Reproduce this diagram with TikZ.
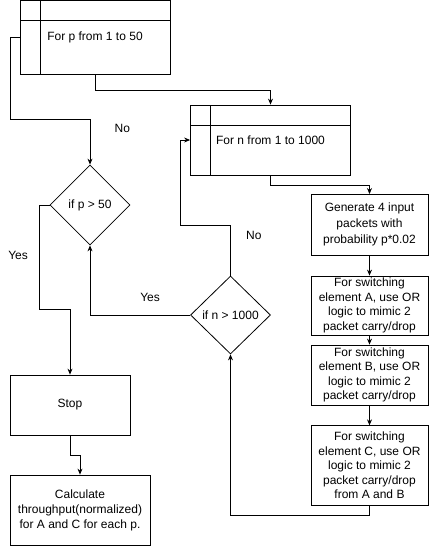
\documentclass[tikz,border=0pt]{standalone}
\usepackage{fontspec}
\setmainfont{Liberation Sans}
\usetikzlibrary{arrows.meta,positioning,calc,shapes.geometric}

\begin{document}
\begin{tikzpicture}[
  x=1pt,y=-1pt,
  every node/.style={font=\fontsize{12}{14.5}\selectfont},
  bx/.style={draw,line width=0.8pt,align=center,inner sep=2pt},
  loopbx/.style={bx,
    path picture={
      \draw[line width=0.8pt] ([xshift=20pt]path picture bounding box.north west) -- ([xshift=20pt]path picture bounding box.south west);
      \draw[line width=0.8pt] ([yshift=-20pt]path picture bounding box.north west) -- ([yshift=-20pt]path picture bounding box.north east);}},
  cond/.style={draw,line width=0.8pt,diamond,inner sep=0pt,minimum width=80pt,minimum height=80pt},
  arrow/.style={-{Stealth[length=6pt,width=5pt]},line width=0.8pt}
]
\useasboundingbox (0,0) rectangle (432,549);

\node[loopbx,minimum width=150pt,minimum height=74pt] (pLoop) at (95,37.5) {For p from 1 to 50};
\node[loopbx,minimum width=160pt,minimum height=70pt] (nLoop) at (270.5,140) {For n from 1 to 1000};
\node[bx,minimum width=117pt,minimum height=60.5pt,font=\fontsize{12}{16}\selectfont] (genPkt) at (369.5,224.7) {Generate 4 input\\packets with\\probability p*0.02};
\node[bx,minimum width=117pt,minimum height=59pt] (swA) at (369.5,305.5) {For switching\\element A, use OR\\logic to mimic 2\\packet carry/drop};
\node[bx,minimum width=117pt,minimum height=60pt] (swB) at (369.5,375) {For switching\\element B, use OR\\logic to mimic 2\\packet carry/drop};
\node[bx,minimum width=117pt,minimum height=79.5pt] (swC) at (369.5,465.5) {For switching\\element C, use OR\\logic to mimic 2\\packet carry/drop\\from A and B};
\node[cond] (ifP) at (90,205) {if p > 50};
\node[cond,minimum height=78pt] (ifN) at (230.5,315) {if n > 1000};
\node[bx,minimum width=120pt,minimum height=60pt] (stopBx) at (70,405) {Stop};
\node[bx,minimum width=140pt,minimum height=70pt,font=\fontsize{12}{15}\selectfont] (calcBx) at (80,510) {Calculate\\throughput(normalized)\\for A and C for each p.};

\draw[arrow] (pLoop.west) -- ++(-9,0) |- ([yshift=45pt]ifP.north) -- node[pos=0.2,right=21pt] {No} (ifP.north);
\draw[arrow] (pLoop.south) -- ++(0,15.5) -| (nLoop.north);
\draw[arrow] (nLoop.south) -- ++(0,10) -| (genPkt.north);
\draw[arrow] (genPkt) -- (swA);
\draw[arrow] (swA) -- (swB);
\draw[arrow] (swB) -- (swC);
\draw[arrow] (swC.south) -- ++(0,10) -| (ifN.south);
\draw[arrow] (ifN.north) -- node[pos=0.8,right=12pt] {No} ++(0,-50) -| ([xshift=-9.5pt]nLoop.west) -- (nLoop.west);
\draw[arrow] (ifN.west) -| node[pos=0.2,above=10pt] {Yes} (ifP.south);
\draw[arrow] (ifP.west) -- ++(-10,0) |- node[pos=0.24,left=8pt] {Yes} ([yshift=65pt]stopBx.north) -- (stopBx.north);
\draw[arrow] (stopBx.south) -- ++(0,20) -| (calcBx.north);
\end{tikzpicture}
\end{document}
